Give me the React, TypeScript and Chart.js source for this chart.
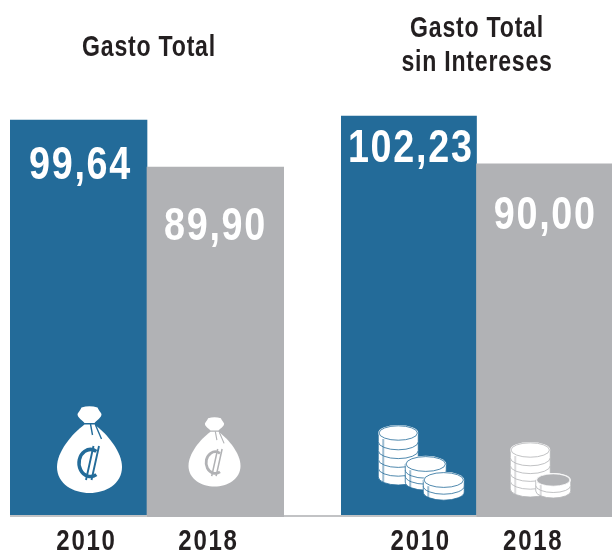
import React, { useEffect, useRef } from "react";
import { Chart, registerables } from "chart.js";

Chart.register(...registerables);

const categories = ["2010", "2018"];
const gastoTotal = [99.64, 89.9];
const gastoSinIntereses = [102.23, 90.0];
const titleTotal = ["Gasto Total"];
const titleSinIntereses = ["Gasto Total", "sin Intereses"];

const BLUE = "#236b99";
const GRAY = "#b1b2b5";
const INK = "#231f20";
const LINE = "#c2c3c5";
const FONT = '"Liberation Sans", sans-serif';

function squeezed(ctx: any, text: string, x: number, y: number, sx: number) {
  ctx.save();
  ctx.translate(x, y);
  ctx.scale(sx, 1);
  ctx.fillText(text, 0, 0);
  ctx.restore();
}

function drawColon(ctx: any, cx: number, cy: number, s: number, color: string) {
  ctx.save();
  ctx.translate(cx, cy);
  ctx.scale(s, s);
  ctx.strokeStyle = color;
  ctx.lineWidth = 3.5;
  ctx.lineCap = "butt";
  ctx.beginPath();
  ctx.ellipse(1, 0, 11.5, 13.5, 0, Math.PI * 0.33, Math.PI * 1.67);
  ctx.stroke();
  ctx.lineWidth = 1.9;
  ctx.beginPath();
  ctx.moveTo(4, -17);
  ctx.lineTo(-3.5, 17);
  ctx.moveTo(9.5, -17);
  ctx.lineTo(2, 17);
  ctx.stroke();
  ctx.restore();
}

function drawBag(ctx: any, cx: number, top: number, s: number, color: string) {
  ctx.save();
  ctx.translate(cx, top);
  ctx.scale(s, s);
  ctx.fillStyle = "#fff";
  ctx.beginPath();
  ctx.moveTo(-5, 17);
  ctx.bezierCurveTo(-7, 14, -12, 12, -12, 8);
  ctx.bezierCurveTo(-11, 6, -9, 4, -8, 1.5);
  ctx.quadraticCurveTo(0, -1, 8, 1.5);
  ctx.bezierCurveTo(9, 4, 11, 6, 12, 8);
  ctx.bezierCurveTo(12, 12, 7, 14, 5, 17);
  ctx.closePath();
  ctx.fill();
  ctx.beginPath();
  ctx.moveTo(-5, 18.5);
  ctx.bezierCurveTo(-18, 28, -32.5, 46, -32.5, 61);
  ctx.bezierCurveTo(-32.5, 78, -16, 87, 0, 87);
  ctx.bezierCurveTo(16, 87, 32.5, 78, 32.5, 61);
  ctx.bezierCurveTo(32.5, 46, 18, 28, 5, 18.5);
  ctx.closePath();
  ctx.fill();
  ctx.strokeStyle = color;
  ctx.lineWidth = 1.4;
  ctx.beginPath();
  ctx.moveTo(1, 18);
  ctx.lineTo(3, 29);
  ctx.moveTo(6, 19);
  ctx.lineTo(12, 33);
  ctx.stroke();
  ctx.restore();
  drawColon(ctx, cx, top + 57 * s, s, color);
}

function drawStack(ctx: any, cx: number, topC: number, rx: number, n: number, h: number, color: string, hollow: boolean) {
  const ry = rx * 0.4;
  ctx.save();
  for (let i = n; i >= 1; i--) {
    const y = topC + (i - 1) * h;
    ctx.fillStyle = "#fff";
    ctx.strokeStyle = color;
    ctx.lineWidth = 0.8;
    ctx.beginPath();
    ctx.moveTo(cx - rx, y);
    ctx.lineTo(cx - rx, y + h);
    ctx.ellipse(cx, y + h, rx, ry, 0, Math.PI, 0, true);
    ctx.lineTo(cx + rx, y);
    ctx.closePath();
    ctx.fill();
    ctx.stroke();
    ctx.fillStyle = color;
    ctx.globalAlpha = 0.45;
    ctx.fillRect(cx - rx + 4, y + ry - 2, 2, h);
    ctx.globalAlpha = 1;
  }
  ctx.beginPath();
  ctx.ellipse(cx, topC, rx, ry, 0, 0, Math.PI * 2);
  ctx.fillStyle = "#fff";
  ctx.fill();
  ctx.beginPath();
  ctx.ellipse(cx, topC, rx - 0.8, ry - 0.8, 0, 0, Math.PI * 2);
  ctx.fillStyle = hollow ? color : "#fff";
  ctx.strokeStyle = hollow ? "#fff" : color;
  ctx.lineWidth = 0.8;
  ctx.fill();
  ctx.stroke();
  ctx.restore();
}

const decor = {
  id: "decor",
  afterDatasetsDraw(chart: any, _a: any, o: any) {
    const { ctx, scales } = chart;
    const meta = chart.getDatasetMeta(0);
    ctx.save();
    ctx.fillStyle = LINE;
    ctx.fillRect(o.lineLeft, 515, o.lineRight - o.lineLeft, 2);
    const g = meta.data[1];
    ctx.fillStyle = GRAY;
    ctx.fillRect(g.x - g.width / 2, 515, g.width, 2);
    ctx.textAlign = "center";
    ctx.textBaseline = "middle";
    ctx.fillStyle = INK;
    ctx.font = `bold 30px ${FONT}`;
    ctx.letterSpacing = "1px";
    o.title.forEach((t: string, i: number) => squeezed(ctx, t, o.titleX, o.titleY + i * 34, 0.77));
    ctx.fillStyle = "#fff";
    ctx.font = `bold 46px ${FONT}`;
    ctx.letterSpacing = "2.1px";
    const data = chart.data.datasets[0].data;
    meta.data.forEach((b: any, i: number) => {
      const text = data[i].toFixed(2).replace(".", ",");
      squeezed(ctx, text, b.x + o.valueDx[i], b.y + o.valueDy[i], 0.82);
    });
    ctx.fillStyle = INK;
    ctx.font = `bold 30px ${FONT}`;
    ctx.letterSpacing = "2.2px";
    chart.data.labels.forEach((l: string, i: number) => {
      squeezed(ctx, l, scales.x.getPixelForValue(i) + o.yearDx[i], 542, 0.8);
    });
    ctx.letterSpacing = "0px";
    ctx.restore();
    o.icons(ctx, meta.data);
  },
};

function useChart(ref: any, values: number[], min: number, max: number, padding: any, opts: any) {
  useEffect(() => {
    const chart = new Chart(ref.current, {
      type: "bar",
      data: {
        labels: categories,
        datasets: [
          {
            data: values,
            backgroundColor: [BLUE, GRAY],
            borderWidth: 0,
            categoryPercentage: 1,
            barPercentage: 1,
          },
        ],
      },
      options: {
        responsive: false,
        animation: false,
        layout: { padding },
        scales: {
          x: { display: false },
          y: { display: false, min, max },
        },
        plugins: { legend: { display: false }, tooltip: { enabled: false }, title: { display: false }, decor: opts },
      } as any,
      plugins: [decor],
    });
    return () => chart.destroy();
  }, []);
}

export default function App() {
  const a = useRef<HTMLCanvasElement>(null);
  const b = useRef<HTMLCanvasElement>(null);
  useChart(a, gastoTotal, 17.36, 103.78, { left: 10, right: 28, top: 100, bottom: 36 }, {
    title: titleTotal,
    titleX: 149,
    titleY: 47.5,
    valueDx: [2, 0],
    valueDy: [46.5, 60.5],
    yearDx: [8, -7],
    lineLeft: 10,
    lineRight: 312,
    icons: (ctx: any, bars: any[]) => {
      drawBag(ctx, bars[0].x + 11, 406, 1, BLUE);
      drawBag(ctx, bars[1].x - 1, 417, 0.8, GRAY);
    },
  });
  useChart(b, gastoSinIntereses, 0, 106.3, { left: 29, right: 0, top: 100, bottom: 36 }, {
    title: titleSinIntereses,
    titleX: 165,
    titleY: 28.5,
    valueDx: [2, 1],
    valueDy: [33, 52],
    yearDx: [12, -11],
    lineLeft: 0,
    lineRight: 300,
    icons: (ctx: any, bars: any[]) => {
      const x0 = bars[0].x;
      const x1 = bars[1].x;
      drawStack(ctx, x0 - 10.5, 433, 20, 5, 8.8, BLUE, false);
      drawStack(ctx, x0 + 17, 464, 20.5, 3, 6, BLUE, false);
      drawStack(ctx, x0 + 35, 480, 20.5, 2, 6, BLUE, false);
      drawStack(ctx, x1 - 14, 450, 20, 5, 7.8, GRAY, false);
      drawStack(ctx, x1 + 9, 480, 17.5, 2, 5.5, GRAY, true);
    },
  });
  return (
    <div style={{ position: "absolute", left: 0, top: 0, width: 612, height: 553 }}>
      <canvas ref={a} width={312} height={553} style={{ position: "absolute", left: 0, top: 0 }} />
      <canvas ref={b} width={300} height={553} style={{ position: "absolute", left: 312, top: 0 }} />
    </div>
  );
}
